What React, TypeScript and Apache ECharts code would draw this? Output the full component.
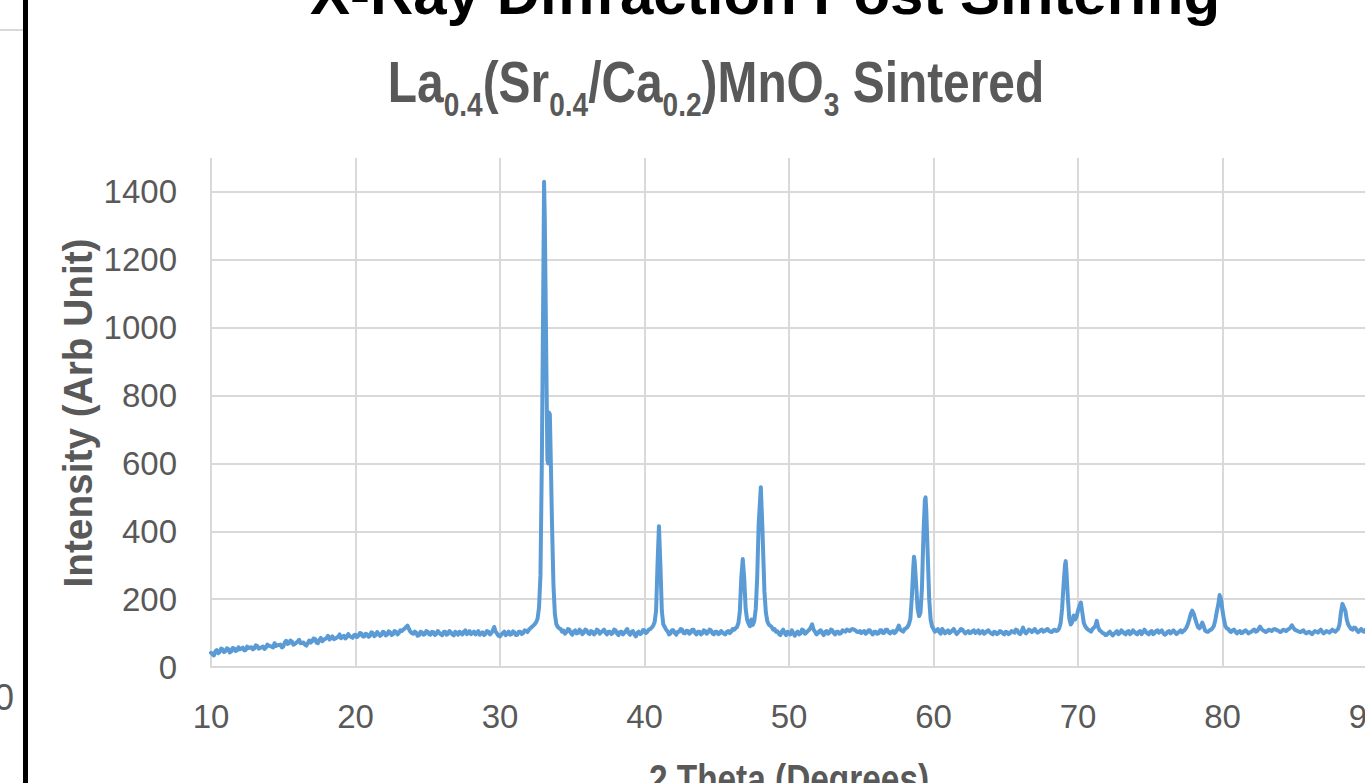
import React, { useEffect, useRef } from "react";
import * as echarts from "echarts";

const FONT = '"Liberation Sans", Arial, sans-serif';

const xTickLabels = [10, 20, 30, 40, 50, 60, 70, 80, 90];
const yTickLabels = [0, 200, 400, 600, 800, 1000, 1200, 1400];

// 2θ (degrees), intensity (arb. unit)
const rise10to20: [number, number][] = [
  [10.0, 42], [10.1, 38], [10.2, 34], [10.3, 46], [10.4, 50], [10.5, 41], [10.6, 44], [10.7, 54], [10.8, 52], [10.9, 44],
  [11.0, 47], [11.1, 55], [11.2, 53], [11.3, 43], [11.4, 46], [11.5, 56], [11.6, 55], [11.7, 47], [11.8, 50], [11.9, 58],
  [12.0, 52], [12.2, 57], [12.3, 49], [12.4, 50], [12.5, 60], [12.6, 56], [12.8, 58], [12.9, 52], [13.0, 55], [13.1, 64],
  [13.2, 62], [13.3, 54], [13.4, 56], [13.6, 60], [13.7, 53], [13.8, 57], [13.9, 66], [14.0, 63], [14.2, 60], [14.3, 58],
  [14.4, 70], [14.5, 62], [14.6, 64], [14.8, 66], [14.9, 58], [15.0, 60], [15.1, 72], [15.2, 77], [15.3, 68], [15.4, 70],
  [15.5, 78], [15.6, 75], [15.7, 66], [15.8, 68], [16.0, 75], [16.1, 80], [16.2, 70], [16.4, 72], [16.5, 66], [16.6, 63],
  [16.8, 78], [16.9, 72], [17.0, 76], [17.1, 84], [17.2, 83], [17.3, 72], [17.4, 70], [17.5, 80], [17.6, 86], [17.7, 76],
  [17.8, 80], [18.0, 86], [18.1, 92], [18.2, 81], [18.4, 90], [18.5, 82], [18.6, 84], [18.8, 89], [18.9, 96], [19.0, 85],
  [19.2, 92], [19.3, 84], [19.4, 88], [19.5, 97], [19.6, 91], [19.8, 86], [19.9, 94], [20.0, 95],
];

const flat20to32: [number, number][] = [
  [20.1, 88], [20.2, 92], [20.3, 100], [20.4, 99], [20.5, 90], [20.6, 90], [20.7, 98], [20.8, 96], [20.9, 89], [21.0, 92],
  [21.1, 102], [21.2, 100], [21.3, 91], [21.4, 94], [21.5, 103], [21.6, 98], [21.7, 92], [21.8, 95], [21.9, 104], [22.0, 101],
  [22.1, 93], [22.2, 96], [22.3, 105], [22.4, 102], [22.5, 94], [22.6, 97], [22.7, 106], [22.8, 104], [22.9, 96], [23.0, 100],
  [23.1, 108], [23.2, 106], [23.3, 110], [23.4, 113], [23.5, 118], [23.6, 122], [23.7, 112], [23.8, 104], [23.9, 100], [24.0, 98],
  [24.1, 104], [24.2, 101], [24.3, 92], [24.4, 94], [24.5, 104], [24.6, 102], [24.7, 95], [24.8, 97], [24.9, 106], [25.0, 104],
  [25.1, 96], [25.2, 95], [25.3, 104], [25.4, 102], [25.5, 94], [25.6, 98], [25.7, 106], [25.8, 101], [25.9, 96], [26.0, 94],
  [26.1, 103], [26.2, 104], [26.3, 95], [26.4, 98], [26.5, 106], [26.6, 102], [26.7, 96], [26.8, 93], [26.9, 104], [27.0, 100],
  [27.1, 95], [27.2, 104], [27.3, 100], [27.4, 96], [27.5, 104], [27.6, 108], [27.7, 97], [27.8, 100], [27.9, 106], [28.0, 97],
  [28.1, 100], [28.2, 104], [28.3, 96], [28.4, 100], [28.5, 106], [28.6, 95], [28.7, 99], [28.8, 102], [28.9, 94], [29.0, 98],
  [29.1, 106], [29.2, 104], [29.3, 96], [29.4, 100], [29.5, 108], [29.6, 118], [29.7, 104], [29.8, 98], [29.9, 92], [30.0, 90],
  [30.1, 96], [30.2, 100], [30.3, 104], [30.4, 94], [30.5, 98], [30.6, 104], [30.7, 95], [30.8, 97], [30.9, 105], [31.0, 102],
  [31.1, 94], [31.2, 95], [31.3, 104], [31.4, 104], [31.5, 97], [31.6, 100], [31.7, 108], [31.8, 107], [31.9, 103], [32.0, 110],
  [32.1, 114],
];

const peak33: [number, number][] = [
  [32.2, 118], [32.3, 122], [32.4, 126], [32.5, 132], [32.6, 142], [32.7, 175], [32.8, 270], [32.9, 620], [33.0, 1150],
  [33.05, 1430], [33.1, 1320], [33.2, 920], [33.28, 610], [33.33, 600], [33.38, 750], [33.45, 745],
  [33.52, 600], [33.6, 420], [33.7, 240], [33.8, 155], [33.9, 126], [34.0, 118],
];

const flat34to40: [number, number][] = [
  [34.1, 114], [34.2, 112], [34.3, 104], [34.4, 107], [34.5, 98], [34.6, 103], [34.7, 112], [34.8, 110], [34.9, 100], [35.0, 95],
  [35.1, 104], [35.2, 108], [35.3, 99], [35.4, 100], [35.5, 110], [35.6, 106], [35.7, 97], [35.8, 101], [35.9, 110], [36.0, 108],
  [36.1, 100], [36.2, 97], [36.3, 106], [36.4, 104], [36.5, 96], [36.6, 100], [36.7, 110], [36.8, 107], [36.9, 98], [37.0, 102],
  [37.1, 106], [37.2, 110], [37.3, 101], [37.4, 96], [37.5, 104], [37.6, 104], [37.7, 97], [37.8, 100], [37.9, 110], [38.0, 108],
  [38.1, 99], [38.2, 94], [38.3, 103], [38.4, 104], [38.5, 96], [38.6, 100], [38.7, 106], [38.8, 112], [38.9, 100], [39.0, 95],
  [39.1, 104], [39.2, 106], [39.3, 96], [39.4, 90], [39.5, 100], [39.6, 104], [39.7, 97], [39.8, 100], [39.9, 109], [40.0, 108],
  [40.1, 100], [40.2, 104], [40.3, 110], [40.4, 112], [40.5, 116],
];

const peak41: [number, number][] = [
  [40.6, 122], [40.7, 132], [40.8, 165], [40.9, 300], [41.0, 415], [41.1, 300], [41.2, 165], [41.3, 126], [41.4, 118],
];

const flat41to46: [number, number][] = [
  [41.5, 110], [41.6, 105], [41.7, 96], [41.8, 99], [41.9, 108], [42.0, 108], [42.1, 100], [42.2, 95], [42.3, 104], [42.4, 104],
  [42.5, 112], [42.6, 110], [42.7, 100], [42.8, 99], [42.9, 107], [43.0, 106], [43.1, 98], [43.2, 101], [43.3, 110], [43.4, 110],
  [43.5, 100], [43.6, 96], [43.7, 104], [43.8, 104], [43.9, 96], [44.0, 99], [44.1, 108], [44.2, 106], [44.3, 98], [44.4, 102],
  [44.5, 110], [44.6, 108], [44.7, 99], [44.8, 96], [44.9, 104], [45.0, 104], [45.1, 97], [45.2, 99], [45.3, 106], [45.4, 102],
  [45.5, 98], [45.6, 96], [45.7, 104], [45.8, 106], [45.9, 100], [46.0, 104], [46.1, 112], [46.2, 110], [46.3, 114],
];

const peaks47and48: [number, number][] = [
  [46.4, 118], [46.5, 130], [46.6, 165], [46.7, 265], [46.8, 318], [46.9, 262], [47.0, 172], [47.1, 140], [47.2, 128],
  [47.3, 120], [47.4, 140], [47.5, 124], [47.6, 136], [47.7, 172], [47.8, 265], [47.9, 420], [48.05, 530],
  [48.15, 420], [48.3, 222], [48.4, 160], [48.5, 135], [48.6, 125], [48.7, 122], [48.8, 118], [48.9, 110],
];

const flat49to58: [number, number][] = [
  [49.0, 112], [49.1, 104], [49.2, 105], [49.3, 98], [49.4, 94], [49.5, 104], [49.6, 110], [49.7, 100], [49.8, 94], [49.9, 104],
  [50.0, 100], [50.1, 96], [50.2, 108], [50.3, 100], [50.4, 92], [50.5, 100], [50.6, 104], [50.7, 96], [50.8, 99], [50.9, 110],
  [51.0, 108], [51.1, 98], [51.2, 101], [51.3, 106], [51.4, 110], [51.5, 116], [51.6, 126], [51.7, 110], [51.8, 104], [51.9, 96],
  [52.0, 99], [52.1, 106], [52.2, 108], [52.3, 100], [52.4, 94], [52.5, 104], [52.6, 106], [52.7, 98], [52.8, 101], [52.9, 110],
  [53.0, 108], [53.1, 100], [53.2, 96], [53.3, 104], [53.4, 104], [53.5, 98], [53.6, 100], [53.7, 108], [53.8, 106], [53.9, 104],
  [54.0, 110], [54.1, 108], [54.2, 106], [54.3, 110], [54.4, 112], [54.5, 110], [54.6, 108], [54.7, 104], [54.8, 103], [54.9, 106],
  [55.0, 100], [55.1, 104], [55.2, 106], [55.3, 98], [55.4, 101], [55.5, 108], [55.6, 108], [55.7, 100], [55.8, 96], [55.9, 104],
  [56.0, 104], [56.1, 98], [56.2, 99], [56.3, 108], [56.4, 108], [56.5, 100], [56.6, 101], [56.7, 110], [56.8, 110], [56.9, 102],
  [57.0, 99], [57.1, 104], [57.2, 106], [57.3, 100], [57.4, 104], [57.5, 112], [57.6, 122], [57.7, 110], [57.8, 107], [57.9, 104],
  [58.0, 112], [58.1, 114],
];

const peaks59: [number, number][] = [
  [58.2, 118], [58.3, 126], [58.4, 142], [58.5, 205], [58.6, 292], [58.65, 325], [58.7, 310], [58.8, 242], [58.9, 172],
  [59.0, 150], [59.1, 160], [59.2, 232], [59.3, 385], [59.4, 490], [59.45, 500], [59.5, 462], [59.6, 332],
  [59.7, 202], [59.8, 140], [59.9, 120], [60.0, 112],
];

const flat60to68: [number, number][] = [
  [60.1, 104], [60.2, 107], [60.3, 112], [60.4, 103], [60.5, 98], [60.6, 112], [60.7, 106], [60.8, 99], [60.9, 104], [61.0, 108],
  [61.1, 100], [61.2, 103], [61.3, 108], [61.4, 112], [61.5, 104], [61.6, 97], [61.7, 102], [61.8, 106], [61.9, 112], [62.0, 110],
  [62.1, 104], [62.2, 99], [62.3, 103], [62.4, 106], [62.5, 100], [62.6, 101], [62.7, 106], [62.8, 108], [62.9, 100], [63.0, 104],
  [63.1, 108], [63.2, 99], [63.3, 102], [63.4, 106], [63.5, 98], [63.6, 101], [63.7, 106], [63.8, 108], [63.9, 102], [64.0, 99],
  [64.1, 96], [64.2, 104], [64.3, 102], [64.4, 97], [64.5, 100], [64.6, 106], [64.7, 104], [64.8, 99], [64.9, 96], [65.0, 104],
  [65.1, 102], [65.2, 97], [65.3, 100], [65.4, 106], [65.5, 104], [65.6, 101], [65.7, 110], [65.8, 108], [65.9, 100], [66.0, 97],
  [66.1, 106], [66.2, 116], [66.3, 104], [66.4, 99], [66.5, 104], [66.6, 110], [66.7, 108], [66.8, 103], [66.9, 106], [67.0, 112],
  [67.1, 106], [67.2, 101], [67.3, 104], [67.4, 108], [67.5, 110], [67.6, 104], [67.7, 106], [67.8, 110], [67.9, 112], [68.0, 106],
  [68.1, 104], [68.2, 103], [68.3, 108], [68.4, 110], [68.5, 106], [68.6, 108], [68.7, 114],
];

const peaks69to71: [number, number][] = [
  [68.8, 130], [68.9, 172], [69.0, 242], [69.1, 300], [69.15, 312], [69.2, 282], [69.3, 202], [69.4, 142],
  [69.5, 125], [69.6, 132], [69.7, 152], [69.8, 140], [69.9, 148], [70.0, 166], [70.1, 180], [70.2, 190],
  [70.3, 160], [70.4, 130], [70.5, 120], [70.6, 114], [70.7, 110], [70.8, 107], [70.9, 104], [71.0, 112],
  [71.1, 116], [71.2, 121], [71.3, 136], [71.4, 117],
];

const flat71to77: [number, number][] = [
  [71.5, 108], [71.6, 105], [71.7, 100], [71.8, 99], [71.9, 94], [72.0, 95], [72.1, 100], [72.2, 104], [72.3, 98], [72.4, 93],
  [72.5, 98], [72.6, 102], [72.7, 106], [72.8, 97], [72.9, 100], [73.0, 108], [73.1, 104], [73.2, 99], [73.3, 96], [73.4, 104],
  [73.5, 106], [73.6, 97], [73.7, 100], [73.8, 108], [73.9, 104], [74.0, 99], [74.1, 96], [74.2, 104], [74.3, 106], [74.4, 97],
  [74.5, 102], [74.6, 110], [74.7, 104], [74.8, 99], [74.9, 96], [75.0, 104], [75.1, 106], [75.2, 97], [75.3, 100], [75.4, 106],
  [75.5, 108], [75.6, 101], [75.7, 104], [75.8, 108], [75.9, 100], [76.0, 95], [76.1, 98], [76.2, 104], [76.3, 106], [76.4, 99],
  [76.5, 102], [76.6, 108], [76.7, 104], [76.8, 97], [76.9, 100], [77.0, 104], [77.1, 108], [77.2, 102], [77.3, 106], [77.4, 110],
  [77.5, 116],
];

const peaks78and80: [number, number][] = [
  [77.6, 126], [77.7, 140], [77.8, 156], [77.9, 166], [78.0, 158], [78.1, 144], [78.2, 130], [78.3, 118], [78.4, 114],
  [78.5, 120], [78.6, 131], [78.7, 120], [78.8, 107], [78.9, 104], [79.0, 104], [79.1, 108], [79.2, 110], [79.3, 114],
  [79.4, 121], [79.5, 138], [79.6, 162], [79.7, 182], [79.8, 212], [79.9, 200], [80.0, 166], [80.1, 140], [80.2, 120],
  [80.3, 114], [80.4, 112],
];

const flat80to88: [number, number][] = [
  [80.5, 106], [80.6, 103], [80.7, 108], [80.8, 110], [80.9, 104], [81.0, 99], [81.1, 104], [81.2, 106], [81.3, 100], [81.4, 101],
  [81.5, 106], [81.6, 108], [81.7, 104], [81.8, 99], [81.9, 102], [82.0, 104], [82.1, 108], [82.2, 110], [82.3, 104], [82.4, 106],
  [82.5, 112], [82.6, 119], [82.7, 112], [82.8, 108], [82.9, 106], [83.0, 103], [83.1, 106], [83.2, 110], [83.3, 108], [83.4, 106],
  [83.5, 110], [83.6, 112], [83.7, 110], [83.8, 108], [83.9, 106], [84.0, 103], [84.1, 106], [84.2, 110], [84.3, 108], [84.4, 106],
  [84.5, 110], [84.6, 112], [84.7, 116], [84.8, 123], [84.9, 116], [85.0, 110], [85.1, 108], [85.2, 106], [85.3, 104], [85.4, 103],
  [85.5, 106], [85.6, 108], [85.7, 102], [85.8, 99], [85.9, 102], [86.0, 104], [86.1, 100], [86.2, 97], [86.3, 102], [86.4, 106],
  [86.5, 104], [86.6, 101], [86.7, 106], [86.8, 110], [86.9, 104], [87.0, 99], [87.1, 102], [87.2, 106], [87.3, 104], [87.4, 101],
  [87.5, 106], [87.6, 110], [87.7, 106], [87.8, 104], [87.9, 108], [88.0, 112],
];

const peak88: [number, number][] = [
  [88.1, 126], [88.2, 162], [88.3, 186], [88.4, 176], [88.5, 166], [88.6, 140], [88.7, 125], [88.8, 118],
  [88.9, 112], [89.0, 110], [89.1, 116], [89.2, 115], [89.3, 108], [89.4, 103], [89.5, 108], [89.6, 112],
  [89.7, 106], [89.8, 104], [89.9, 110], [90.0, 106],
];

const pattern = [
  ...rise10to20, ...flat20to32, ...peak33, ...flat34to40, ...peak41, ...flat41to46,
  ...peaks47and48, ...flat49to58, ...peaks59, ...flat60to68, ...peaks69to71, ...flat71to77,
  ...peaks78and80, ...flat80to88, ...peak88,
];

export default function App() {
  const ref = useRef<HTMLDivElement>(null);
  useEffect(() => {
    if (!ref.current) return;
    const chart = echarts.init(ref.current, null, { renderer: "svg" });
    const grid = "#d9d9d9";
    const textGray = "#595959";
    chart.setOption({
      animation: false,
      backgroundColor: "#ffffff",
      grid: { left: 211, right: -2, top: 158, bottom: 116, outerBoundsMode: "none", containLabel: false },
      xAxis: {
        type: "value",
        min: xTickLabels[0],
        max: xTickLabels[xTickLabels.length - 1],
        interval: 10,
        axisLine: { show: true, lineStyle: { color: grid, width: 2 } },
        axisTick: { show: false },
        axisLabel: { color: textGray, fontSize: 33, fontFamily: FONT, margin: 33 },
        splitLine: { show: true, lineStyle: { color: grid, width: 2 } },
      },
      yAxis: {
        type: "value",
        min: 0,
        max: 1500,
        interval: 200,
        axisLine: { show: false },
        axisTick: { show: false },
        axisLabel: {
          color: textGray,
          fontSize: 33,
          fontFamily: FONT,
          margin: 34,
          formatter: (v: number) => (yTickLabels.indexOf(v) >= 0 ? String(v) : ""),
        },
        splitLine: { show: true, showMaxLine: false, lineStyle: { color: grid, width: 2 } },
      },
      series: [
        {
          type: "line",
          data: pattern,
          showSymbol: false,
          symbol: "none",
          lineStyle: { color: "#5B9BD5", width: 4, join: "round", cap: "round" },
          itemStyle: { color: "#5B9BD5" },
        },
      ],
      graphic: [
        { type: "rect", shape: { x: 23, y: 0, width: 5, height: 783 }, style: { fill: "#000" } },
        { type: "line", shape: { x1: 0, y1: 30, x2: 23, y2: 30 }, style: { stroke: grid, lineWidth: 2 } },
        {
          type: "text",
          x: -6,
          y: 697,
          style: { text: "0", fill: textGray, font: `36px ${FONT}`, align: "left", verticalAlign: "middle" },
        },
        {
          type: "text",
          x: 765,
          y: -7,
          style: {
            text: "X-Ray Diffraction Post Sintering",
            fill: "#000",
            font: `bold 60px ${FONT}`,
            align: "center",
            verticalAlign: "middle",
          },
        },
        {
          type: "text",
          x: 716,
          y: 82,
          scaleX: 0.825,
          style: {
            text: "{m|La}{s|0.4}{m|(Sr}{s|0.4}{m|/Ca}{s|0.2}{m|)MnO}{s|3}{m| Sintered}",
            align: "center",
            verticalAlign: "middle",
            rich: {
              m: { fontSize: 58, fontWeight: "bold", fontFamily: FONT, fill: textGray },
              s: { fontSize: 34, fontWeight: "bold", fontFamily: FONT, fill: textGray, padding: [46, 0, 0, 0] },
            },
          },
        },
        {
          type: "text",
          x: 78,
          y: 413,
          rotation: Math.PI / 2,
          scaleX: 0.97,
          style: {
            text: "Intensity (Arb Unit)",
            fill: textGray,
            font: `bold 40px ${FONT}`,
            align: "center",
            verticalAlign: "middle",
          },
        },
        {
          type: "text",
          x: 789,
          y: 779,
          scaleX: 0.835,
          style: {
            text: "2 Theta (Degrees)",
            fill: textGray,
            font: `bold 40px ${FONT}`,
            align: "center",
            verticalAlign: "middle",
          },
        },
      ],
    });
    return () => chart.dispose();
  }, []);
  return (
    <div style={{ position: "fixed", left: 0, top: 0, width: 1365, height: 783, overflow: "hidden", background: "#fff" }}>
      <div ref={ref} style={{ width: 1365, height: 783 }} />
    </div>
  );
}
